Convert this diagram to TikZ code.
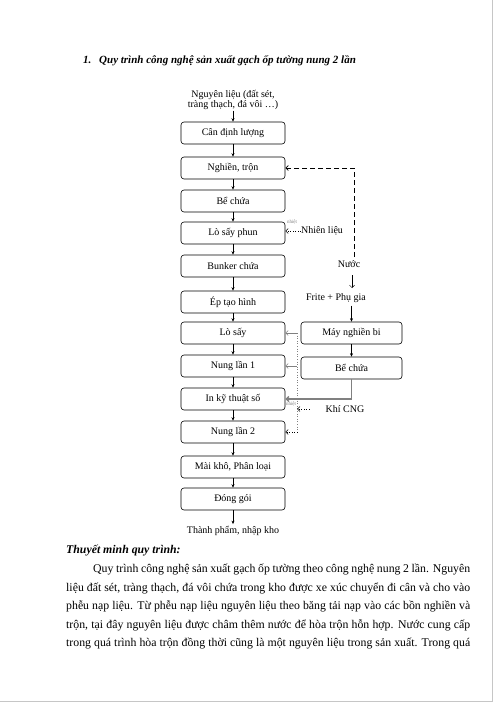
\documentclass[tikz,border=0pt]{standalone}
\usepackage{fontspec}
\setmainfont{Liberation Serif}
\usetikzlibrary{arrows.meta}
\newcommand\flowfont{\fontsize{10}{11}\selectfont}
\newcommand\bodyfont{\fontsize{11.8}{13}\selectfont}
\newcommand\tinyfont{\fontsize{5}{6}\selectfont}
\begin{document}
\begin{tikzpicture}[x=1pt,y=-1pt,
  box/.style={draw, line width=0.6pt, rounded corners=3pt, minimum width=104pt, minimum height=22pt, inner sep=0pt, font=\flowfont},
  rbox/.style={box, minimum width=101pt},
  lbl/.style={inner sep=0pt, font=\flowfont},
  arr/.style={-{Stealth[length=3.5pt,width=3pt]}, line width=0.5pt},
  barb/.style={-{Straight Barb[length=2.5pt,width=5pt]}, line width=0.5pt},
  dsh/.style={barb, dash pattern=on 5pt off 3pt, line width=0.7pt},
  dot/.style={barb, dotted, line width=0.6pt},
  heat/.style={barb, draw=gray, line width=1.5pt},
  small/.style={inner sep=0pt, font=\tinyfont, text=gray},
  txt/.style={inner sep=0pt, anchor=base west, font=\bodyfont},
  line/.style={txt}]
\useasboundingbox (0,0) rectangle (494,703);
\draw[gray!45, line width=1.3pt] (492.5,0) -- (492.5,701.5) -- (0,701.5);

% title
\node[txt, font=\fontsize{11}{12}\selectfont\bfseries\itshape] (tnum) at (83,63.5) {1.};
\node[txt, font=\fontsize{11}{12}\selectfont\bfseries\itshape] (title) at (99,63.5) {Quy trình công nghệ sản xuất gạch ốp tường nung 2 lần};

% main column
\node[lbl, align=center] (in) at (233,100) {Nguyên liệu (đất sét,\\[-1.5pt]tràng thạch, đá vôi …)};
\node[box] (b1) at (233,133) {Cân định lượng};
\node[box] (b2) at (233,168) {Nghiền, trộn};
\node[box] (b3) at (233,201) {Bể chứa};
\node[box] (b4) at (233,233) {Lò sấy phun};
\node[box] (b5) at (233,266) {Bunker chứa};
\node[box] (b6) at (233,302) {Ép tạo hình};
\node[box] (b7) at (233,333) {Lò sấy};
\node[box] (b8) at (233,366) {Nung lần 1};
\node[box] (b9) at (233,399) {In kỹ thuật số};
\node[box] (b10) at (233,432) {Nung lần 2};
\node[box] (b11) at (233,467) {Mài khô, Phân loại};
\node[box] (b12) at (233,499) {Đóng gói};
\node[lbl] (out) at (233,531) {Thành phẩm, nhập kho};

\draw[arr] (in.south) ++(0,1) -- (b1.north);
\foreach \a/\b in {b1/b2,b2/b3,b3/b4,b4/b5,b5/b6,b6/b7,b7/b8,b8/b9,b9/b10,b10/b11,b11/b12}
  \draw[arr] (\a.south) -- (\b.north);
\draw[arr] (b12.south) -- ([yshift=2pt]out.north);

% water
\node[lbl] (nuoc) at (349,264) {Nước};
\coordinate (nt) at (354,168);
\coordinate (nb) at (354,257);
\draw[dsh] (nb) -- (nt) -- (b2.east);
\coordinate (na1) at (352,275);
\coordinate (na2) at (352,288);
\draw[barb] (na1) -- (na2);

% fuel
\node[lbl] (nl) at (322,231) {Nhiên liệu};
\draw[dot] (nl.west) -- (nl.west -| b4.east);
\node[small] (nh1) at (292,222) {nhiệt};

% right column
\node[lbl] (frite) at (336,298) {Frite + Phụ gia};
\node[rbox] (m1) at (351.5,333) {Máy nghiền bi};
\node[rbox] (m2) at (351.5,368) {Bể chứa};
\draw[arr] ([yshift=-3pt]frite.south -| m1.north) -- (m1.north);
\draw[arr] (m1.south) -- (m2.south |- m2.north);
\draw[heat] (m2.south) -- (m2.south |- b9.east) -- (b9.east);
\node[small] (nh2) at (291,404) {nhiệt};

% CNG
\node[lbl] (cng) at (345,409) {Khí CNG};
\coordinate (dv1) at (297,333);
\coordinate (dv2) at (297,432);
\coordinate (cg) at (309,409);
\draw[gray, dotted, line width=0.6pt] (dv1) -- (dv2);
\draw[barb, draw=gray] (dv1) -- (b7.east);
\draw[barb, draw=gray] (dv1 |- b8.east) -- (b8.east);
\draw[dot] (dv2) -- (b10.east);
\draw[dot] (cg) -- (cg -| dv1);

% text
\node[txt, font=\bodyfont\bfseries\itshape] (tm) at (66,553.5) {Thuyết minh quy trình:};
\node[line] (l1) at (93,572) {\makebox[377pt][s]{Quy trình công nghệ sản xuất gạch ốp tường theo công nghệ nung 2 lần. Nguyên}};
\node[line] (l2) at (66,591) {\makebox[404pt][s]{liệu đất sét, tràng thạch, đá vôi chứa trong kho được xe xúc chuyển đi cân và cho vào}};
\node[line] (l3) at (66,609.5) {\makebox[404pt][s]{phễu nạp liệu. Từ phễu nạp liệu nguyên liệu theo băng tải nạp vào các bồn nghiền và}};
\node[line] (l4) at (66,628) {\makebox[404pt][s]{trộn, tại đây nguyên liệu được châm thêm nước để hòa trộn hỗn hợp. Nước cung cấp}};
\node[line] (l5) at (66,646.5) {\makebox[404pt][s]{trong quá trình hòa trộn đồng thời cũng là một nguyên liệu trong sản xuất. Trong quá}};
\end{tikzpicture}
\end{document}
